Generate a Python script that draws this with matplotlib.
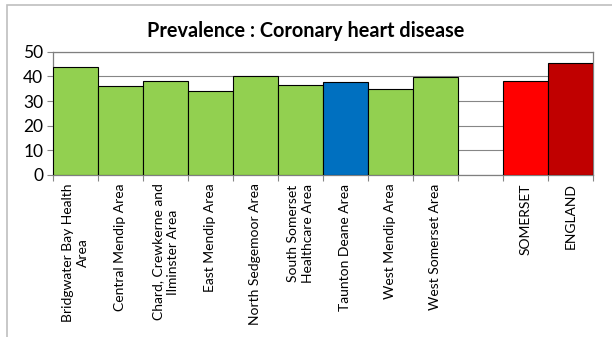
import numpy as np
import matplotlib.pyplot as plt
from matplotlib.patches import Rectangle

plt.rcParams['font.family'] = ['Lato', 'DejaVu Sans']

areas = ["Bridgwater Bay Health\nArea", "Central Mendip Area", "Chard, Crewkerne and\nIlminster Area",
         "East Mendip Area", "North Sedgemoor Area", "South Somerset\nHealthcare Area",
         "Taunton Deane Area", "West Mendip Area", "West Somerset Area", "",
         "SOMERSET", "ENGLAND"]
prevalence = [44.0, 36.3, 38.2, 34.3, 40.2, 36.6, 37.7, 35.1, 39.7, np.nan, 38.2, 45.6]
colours = ["#92D050"] * 6 + ["#0070C0"] + ["#92D050"] * 2 + ["white", "#FF0000", "#C00000"]

fig = plt.figure(figsize=(6.12, 3.37), dpi=100)
ax = fig.add_axes([0.0866, 0.481, 0.882, 0.365])

x = np.arange(len(areas))
ax.bar(x, prevalence, width=1.0, color=colours, edgecolor="black", linewidth=0.8, zorder=3)

ax.set_xlim(-0.5, len(areas) - 0.5)
ax.set_ylim(0, 50)
ax.set_yticks([0, 10, 20, 30, 40, 50])
ax.yaxis.grid(True, color="#868686", linewidth=0.8, zorder=0)
ax.tick_params(axis="y", labelsize=12.5, length=4, color="#868686", pad=3)

# ticks sit between categories, labels centred under bars
ax.set_xticks(np.arange(len(areas) + 1) - 0.5)
ax.set_xticklabels([])
ax.tick_params(axis="x", length=4, color="#868686")
for xi, lab in zip(x, areas):
    ax.text(xi, -3.5, lab, rotation=90, ha="center", va="top", multialignment="center",
            fontsize=10, linespacing=1.3)

for side in ax.spines.values():
    side.set_color("#7F7F7F")
    side.set_linewidth(0.9)

fig.text(0.5, 0.908, "Prevalence : Coronary heart disease", ha="center", va="center",
         fontsize=14.3, fontweight="bold")

fig.patches.append(Rectangle((0.0114, -0.1), 1.2, 1.085, transform=fig.transFigure,
                             fill=False, edgecolor="#BFBFBF", linewidth=1.2))

fig.savefig("out.png", dpi=100)
